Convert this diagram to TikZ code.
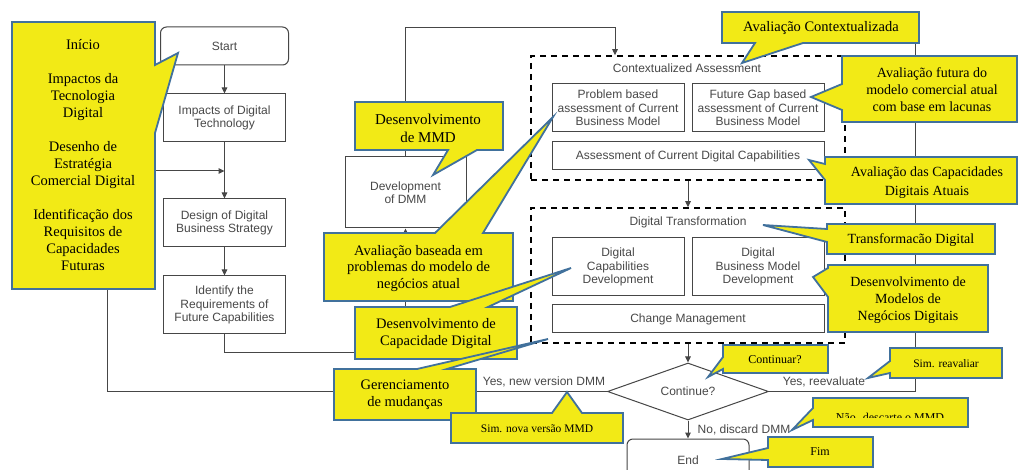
\documentclass[tikz,border=0pt]{standalone}
\usepackage{fontspec}
\setmainfont{Liberation Serif}
\newfontfamily\arialf{Liberation Sans}
\usetikzlibrary{shapes.geometric,arrows.meta,calc}
\definecolor{cy}{RGB}{242,234,22}
\definecolor{cb}{RGB}{65,113,156}
\definecolor{fgc}{RGB}{72,72,72}
\definecolor{lnc}{RGB}{70,70,70}
\begin{document}
\begin{tikzpicture}[x=1pt,y=-1pt,
  fbox/.style={draw=lnc, line width=1pt, fill=white, font=\arialf\fontsize{12}{13.5}\selectfont, text=fgc, align=center, inner sep=0pt},
  dbox/.style={draw=black, line width=1.6pt, dash pattern=on 6pt off 5pt},
  arr/.style={draw=lnc, line width=1pt, -{Triangle[length=6pt,width=5.5pt]}},
  conn/.style={draw=lnc, line width=1pt},
  lbl/.style={font=\arialf\fontsize{12}{13.5}\selectfont, text=fgc, inner sep=0pt},
  call/.style={fill=cy, draw=cb, line width=1.8pt, line join=miter},
  ctext/.style={font=\fontsize{14.5}{17}\selectfont, align=center, inner sep=0pt},
  stext/.style={font=\fontsize{12}{14}\selectfont, align=center, inner sep=0pt}]
\useasboundingbox (0,0) rectangle (1018,470);
\fill[white] (0,0) rectangle (1018,470);

% ---------- flowchart ----------
\node[fbox, minimum width=128pt, minimum height=38pt, rounded corners=6pt] (start) at (224.5,46) {Start};
\node[fbox, minimum width=122pt, minimum height=48pt] (impacts) at (224.5,118) {Impacts of Digital\\Technology};
\node[fbox, minimum width=122pt, minimum height=48pt] (design) at (224.5,223) {Design of Digital\\Business Strategy};
\node[fbox, minimum width=122pt, minimum height=58pt] (identify) at (224.5,305) {Identify the\\Requirements of\\Future Capabilities};
\node[fbox, minimum width=121pt, minimum height=71pt] (dev) at (405.5,192.5) {Development\\of DMM};

\node[dbox, minimum width=314pt, minimum height=124pt] (ca) at (688,118) {};
\node[lbl] (catitle) at (687,68) {Contextualized Assessment};
\node[fbox, minimum width=132pt, minimum height=48pt] (pb) at (618,108) {Problem based\\assessment of Current\\Business Model};
\node[fbox, minimum width=132pt, minimum height=48pt] (fgb) at (758,108) {Future Gap based\\assessment of Current\\Business Model};
\node[fbox, minimum width=272pt, minimum height=28pt] (acdc) at (688,156) {Assessment of Current Digital Capabilities};

\node[dbox, minimum width=314pt, minimum height=135pt] (dt) at (688,275.5) {};
\node[lbl] (dttitle) at (688,222) {Digital Transformation};
\node[fbox, minimum width=132pt, minimum height=58pt] (dcd) at (618,267) {Digital\\Capabilities\\Development};
\node[fbox, minimum width=132pt, minimum height=58pt] (dbmd) at (758,267) {Digital\\Business Model\\Development};
\node[fbox, minimum width=272pt, minimum height=28pt] (cm) at (688,319) {Change Management};

\node[fbox, shape=diamond, aspect=2.82, minimum width=161pt, minimum height=57pt] (dia) at (688,391.5) {Continue?};
\node[fbox, rounded corners=6pt, minimum width=122pt, minimum height=42pt] (endn) at (688,460) {End};

% ---------- connectors ----------
\draw[arr] (start) -- (impacts);
\draw[arr] (impacts) -- (design);
\draw[arr] (design) -- (identify);
\coordinate (jn) at (405.5,353);
\draw[arr] (identify.south) |- (jn) -- (dev.south);
\coordinate (tp) at (615,28);
\draw[arr] (dev.north) |- (tp) -- (tp |- ca.north);
\draw[arr] (ca.south) -- (dt.north);
\draw[arr] (dt.south) -- (dia.north);
\draw[arr] (dia.south) -- (endn.north);
\coordinate (ret) at (107,171);
\draw[arr] (dia.west) -| (ret) -- (ret -| impacts.south);
\coordinate (rt) at (915,30);
\draw[conn] (dia.east) -| (rt);

\node[lbl] (l1) at (544,382) {Yes, new version DMM};
\node[lbl] (l2) at (824,382) {Yes, reevaluate};
\node[lbl] (l3) at (744,430) {No, discard DMM};

% ---------- callouts ----------
\path[call] (12,22) -- (155,22) -- (155,65) -- (178,53) -- (155,133) -- (155,289) -- (12,289) -- cycle;
\node[ctext] (c1) at (83,155.5) {Início\\[17pt]Impactos da\\Tecnologia\\Digital\\[17pt]Desenho de\\Estratégia\\Comercial Digital\\[17pt]Identificação dos\\Requisitos de\\Capacidades\\Futuras};

\path[call] (355,102) -- (503,102) -- (503,150) -- (477,150) -- (433,175) -- (448,150) -- (355,150) -- cycle;
\node[ctext, font=\fontsize{15}{18}\selectfont] (c2) at (428,128) {Desenvolvimento\\de MMD};

\path[call] (324,233) -- (435,233) -- (553,117) -- (483,233) -- (513,233) -- (513,301) -- (324,301) -- cycle;
\node[ctext, font=\fontsize{14.5}{16.5}\selectfont] (c3) at (418.5,268.5) {Avaliação baseada em\\problemas do modelo de\\negócios atual};

\path[call] (355,307) -- (450,307) -- (571,268) -- (488,307) -- (517,307) -- (517,359) -- (355,359) -- cycle;
\node[ctext] (c4) at (436,333.5) {Desenvolvimento de\\Capacidade Digital};

\path[call] (334,369) -- (417,369) -- (548,339) -- (447,369) -- (476,369) -- (476,420) -- (334,420) -- cycle;
\node[ctext] (c5) at (405,394.5) {Gerenciamento\\de mudanças};

\path[call] (451,413) -- (552,413) -- (567,392) -- (582,413) -- (623,413) -- (623,443) -- (451,443) -- cycle;
\node[stext, font=\fontsize{11.5}{14}\selectfont] (c6) at (537,429) {Sim. nova versão MMD};

\path[call] (722,12) -- (919,12) -- (919,43) -- (803,43) -- (742,63) -- (755,43) -- (722,43) -- cycle;
\node[ctext, font=\fontsize{14.5}{17}\selectfont] (c7) at (821,28) {Avaliação Contextualizada};

\path[call] (842,56) -- (1017,56) -- (1017,122) -- (842,122) -- (842,110) -- (811,97) -- (842,84) -- cycle;
\node[ctext, font=\fontsize{14}{17}\selectfont] (c8) at (932,90) {Avaliação futura do\\modelo comercial atual\\com base em lacunas};

\path[call] (825,157) -- (1017,157) -- (1017,204) -- (825,204) -- (825,180) -- (809,160) -- (825,164) -- cycle;
\node[ctext, font=\fontsize{14}{18.4}\selectfont] (c9) at (927,182.5) {Avaliação das Capacidades\\Digitais Atuais};

\path[call] (827,224) -- (995,224) -- (995,254) -- (827,254) -- (827,242) -- (763,225) -- (827,229) -- cycle;
\node[ctext, font=\fontsize{14}{17}\selectfont] (c10) at (911,240) {Transformacão Digital};

\path[call] (828,265) -- (988,265) -- (988,332) -- (828,332) -- (828,297) -- (813,277) -- (828,268) -- cycle;
\node[ctext, font=\fontsize{14}{17}\selectfont] (c11) at (908,300) {Desenvolvimento de\\Modelos de\\Negócios Digitais};

\path[call] (723,345) -- (828,345) -- (828,373) -- (723,373) -- (723,369) -- (708,377) -- (723,357) -- cycle;
\node[stext] (c12) at (775,360) {Continuar?};

\path[call] (890,348) -- (1002,348) -- (1002,378) -- (890,378) -- (890,373) -- (868,378) -- (890,361) -- cycle;
\node[stext, font=\fontsize{11.5}{14}\selectfont] (c13) at (946,364) {Sim. reavaliar};

\path[call] (813,398) -- (968,398) -- (968,427) -- (813,427) -- (813,420) -- (792,430) -- (813,408) -- cycle;
\begin{scope}
\clip (813,398) rectangle (968,417);
\node[stext] (c14) at (890,417) {Não. descarte o MMD};
\end{scope}

\path[call] (768,437) -- (873,437) -- (873,467) -- (768,467) -- (768,460) -- (722,459) -- (768,448) -- cycle;
\node[stext] (c15) at (820,452) {Fim};
\end{tikzpicture}
\end{document}
